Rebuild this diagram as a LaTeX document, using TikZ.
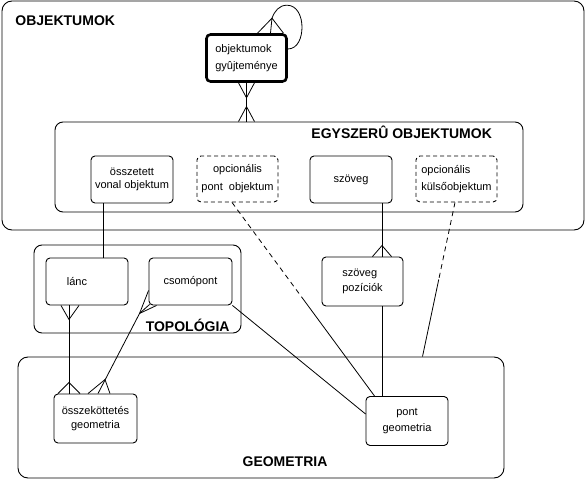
\documentclass[tikz,border=0pt]{standalone}
\usepackage{fontspec}
\setmainfont{Liberation Sans}
\usetikzlibrary{calc}
\begin{document}
\begin{tikzpicture}[x=1pt,y=-1pt,line width=0.9pt,
  sz/.style 2 args={minimum width=#1pt,minimum height=#2pt},
  ent/.style={draw,rectangle,rounded corners=4pt,inner sep=0pt,align=center,font=\fontsize{11}{14}\selectfont},
  opt/.style={ent,dash pattern=on 4pt off 3pt},
  cont/.style={draw,rectangle,rounded corners=10pt,inner sep=0pt},
  title/.style={font=\fontsize{14}{16}\selectfont\bfseries,inner sep=0pt},
  rel/.style={line width=0.8pt},
  half/.style={rel,dash pattern=on 5pt off 4pt}]
\useasboundingbox (0,0) rectangle (587,481);
% containers
\node[cont,sz={582}{229}] (objk) at (293,115.5) {};
\node[title,anchor=base west] (objkl) at (15,26) {OBJEKTUMOK};
\node[cont,rounded corners=8pt,sz={468}{90}] (egy) at (289,167) {};
\node[title,anchor=base west] (egyl) at (311,139) {EGYSZERÛ OBJEKTUMOK};
\node[cont,rounded corners=8pt,sz={207}{88}] (topo) at (137.5,289) {};
\node[title,anchor=base east] (topol) at (230,331.5) {TOPOLÓGIA};
\node[cont,sz={486}{121}] (geom) at (261,417.5) {};
\node[title,anchor=base] (geoml) at (285,466.5) {GEOMETRIA};
% entities
\node[ent,line width=2.6pt,sz={80}{47},align=left] (gyujt) at (246.5,58) {objektumok\\[3pt]gyûjteménye};
\node[ent,sz={82}{47}] (osszetett) at (132,179.5) {összetett\\[-1.5pt]vonal objektum};
\node[opt,sz={81}{46}] (opcpont) at (237.5,179) {opcionális\\[4pt]pont\ \ objektum};
\node[ent,sz={82}{47}] (szoveg) at (351,179.5) {szöveg};
\node[opt,sz={81}{46},align=left] (opckulso) at (456.5,179) {opcionális\\[3pt]külsőobjektum};
\node[ent,sz={82}{47}] (lanc) at (87,281.5) {lánc\hspace*{20pt}};
\node[ent,sz={83}{47}] (csomo) at (190.5,281.5) {csomópont};
\node[ent,sz={81}{49},align=left] (szovpoz) at (362.5,281.5) {szöveg\\[1pt]pozíciók};
\node[ent,sz={83}{49}] (osszek) at (95.5,418.5) {összeköttetés\\geometria};
\node[ent,sz={82}{49}] (pontgeo) at (407,421) {pont\\[2pt]geometria};
% gyujt - egy
\coordinate (g1) at (gyujt.south);
\coordinate (g2) at (g1 |- egy.north);
\draw[rel] (g1) -- (g2);
\draw[rel] ($(g1)+(-8,0)$) -- ($(g1)+(0,15)$) -- ($(g1)+(8,0)$);
\draw[rel] ($(g2)+(-8,0)$) -- ($(g2)+(0,-15)$) -- ($(g2)+(8,0)$);
% self loop
\coordinate (la) at ($(gyujt.north)+(25.5,-15)$);
\coordinate (lb) at ($(gyujt.east)+(0,-9)$);
\draw[rel] ($(gyujt.north)+(11,0)$) -- (la) -- ($(gyujt.north)+(37,0)$);
\draw[rel] (la) -- ($(gyujt.north)+(24,0)$);
\draw[rel] (la) to[out=70,in=180] ($(la)+(15,-13)$) to[out=0,in=90] ($(la)+(30,9)$) to[out=270,in=0] (lb);
% osszetett - lanc
\coordinate (o1) at ($(osszetett.south)+(-29,0)$);
\draw[rel] (o1) -- (o1 |- lanc.north);
% lanc - osszek
\coordinate (l1) at ($(lanc.south)+(-18,0)$);
\coordinate (l2) at (l1 |- osszek.north);
\draw[rel] (l1) -- (l2);
\draw[rel] ($(l1)+(-8,0)$) -- ($(l1)+(0,14)$) -- ($(l1)+(10,0)$);
\draw[rel] ($(l2)+(-11,0)$) -- ($(l2)+(0,-11)$) -- ($(l2)+(11,0)$);
% csomo - osszek
\coordinate (c1) at ($(csomo.south west)+(-9,8)$);
\coordinate (c2) at ($(osszek.north)+(9.5,-14)$);
\draw[rel] (c1) -- ($(osszek.north)+(2.5,0)$);
\draw[rel] ($(csomo.south west)+(0,-15)$) -- (c1) -- ($(csomo.south west)+(8,0)$);
\draw[rel] (c1) -- ($(csomo.south west)+(1,-1)$);
\draw[rel] ($(osszek.north)+(-7.5,0)$) -- (c2) -- ($(osszek.north)+(14.5,0)$);
% csomo - pontgeo
\draw[rel] (csomo.south east) -- ($(pontgeo.west)+(0,-7)$);
% opcpont - pontgeo
\coordinate (p1) at ($(opcpont.south)+(-5.5,0)$);
\coordinate (p2) at ($(pontgeo.north west)+(9,0)$);
\coordinate (pm) at ($(p1)!0.5!(p2)$);
\draw[half] (p1) -- (pm);
\draw[rel] (pm) -- (p2);
% szoveg - szovpoz - pontgeo
\coordinate (s1) at ($(szoveg.south)+(31,0)$);
\coordinate (s2) at (s1 |- szovpoz.north);
\draw[rel] (s1) -- (s2);
\draw[rel] ($(s2)+(-9.5,0)$) -- ($(s2)+(0,-11)$) -- ($(s2)+(9.5,0)$);
\coordinate (s3) at (s1 |- szovpoz.south);
\draw[rel] (s3) -- (s3 |- pontgeo.north);
% opckulso - geom
\coordinate (k1) at ($(opckulso.south)+(-1.5,0)$);
\coordinate (k2) at ($(opckulso.south)+(-34,0)$);
\coordinate (k3) at (k2 |- geom.north);
\coordinate (km) at ($(k1)!0.5!(k3)$);
\draw[half] (k1) -- (km);
\draw[rel] (km) -- (k3);
\end{tikzpicture}
\end{document}
